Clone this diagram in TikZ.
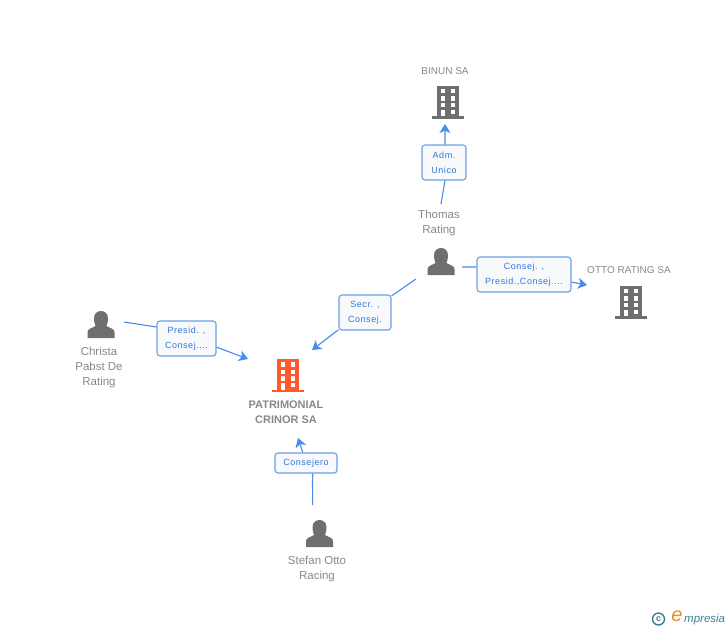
\documentclass[tikz,border=0pt]{standalone}
\usepackage{fontspec}
\setmainfont{Liberation Sans}
\usetikzlibrary{arrows.meta}
\definecolor{iconGrey}{HTML}{6F6F6F}
\definecolor{labelGrey}{HTML}{888888}
\definecolor{linkBlue}{HTML}{4A8AE8}
\definecolor{boxEdge}{HTML}{6A9FE8}
\definecolor{boxText}{HTML}{2F78DC}
\definecolor{boxFill}{HTML}{F8F9FB}
\definecolor{buildOrange}{HTML}{FF5A2B}
\definecolor{logoTeal}{HTML}{3F7F96}
\definecolor{logoOrange}{HTML}{F08A1D}
\tikzset{
  person/.pic={
    \fill[iconGrey] (-13.5,27) -- (-13.5,21) .. controls (-13.5,18) and (-9,17) .. (-5.5,15)
      .. controls (-5.5,14) and (-7,12) .. (-7,7) .. controls (-7,2) and (-3,0) .. (0,0)
      .. controls (3,0) and (7,2) .. (7,7) .. controls (7,12) and (5.5,14) .. (5.5,15)
      .. controls (9,17) and (13.5,18) .. (13.5,21) -- (13.5,27) -- cycle;
  },
  building/.pic={
    \path[pic actions] (-11,-33) rectangle (11,0);
    \path[pic actions] (-16,-2.5) rectangle (16,0);
    \foreach \wy in {-29.7,-22.3,-15.7} {
      \fill[white] (-7.3,\wy) rectangle ++(4.6,4.4);
      \fill[white] (2.7,\wy) rectangle ++(4.6,4.4);
    }
    \fill[white] (2.7,-9) rectangle ++(4.6,4.4);
    \fill[white] (-7.3,-9) rectangle (-2.7,-2.5);
  },
  namelabel/.style={font=\fontsize{11.5}{15}\selectfont, text=labelGrey, align=center, inner sep=0pt},
  firmlabel/.style={font=\fontsize{10}{15}\selectfont, text=labelGrey, align=center, inner sep=0pt},
  mainlabel/.style={font=\fontsize{11}{15}\selectfont\bfseries, text=labelGrey, align=center, inner sep=0pt},
  rolebox/.style={draw=boxEdge, fill=boxFill, line width=1.1pt, rounded corners=3pt,
    inner sep=0pt, align=center, text=boxText,
    font=\fontsize{9}{15}\selectfont\addfontfeature{LetterSpace=6}},
  link/.style={draw=linkBlue, line width=1.1pt},
  arrowlink/.style={link, -{Stealth[length=9pt,width=11pt,inset=2.5pt]}},
}
\begin{document}
\begin{tikzpicture}[x=1pt,y=-1pt]
\useasboundingbox (0,0) rectangle (728,630);

% role boxes
\node[rolebox, minimum width=44pt, minimum height=35pt] (boxA) at (444,162.5) {\raisebox{-1pt}{Adm.}\\\raisebox{-1pt}{Unico}};
\node[rolebox, minimum width=52pt, minimum height=35pt] (boxB) at (365,312.5) {\raisebox{-1pt}{Secr. ,}\\\raisebox{-1pt}{Consej.}};
\node[rolebox, minimum width=94pt, minimum height=35pt] (boxC) at (524,274.5) {\raisebox{-1pt}{Consej. ,}\\\raisebox{-1pt}{Presid.,Consej....}};
\node[rolebox, minimum width=59pt, minimum height=35pt] (boxD) at (186.5,338.5) {\raisebox{-1pt}{Presid. ,}\\\raisebox{-1pt}{Consej....}};
\node[rolebox, minimum width=62pt, minimum height=20pt] (boxE) at (306,463) {\raisebox{-1pt}{Consejero}};

% labels
\node[firmlabel] (binun) at (445,71) {BINUN SA};
\node[firmlabel] (otto) at (629,270.5) {OTTO RATING SA};
\node[namelabel] (thomas) at (439,223) {Thomas\\Rating};
\node[namelabel] (christa) at (99,368) {Christa\\Pabst De\\Rating};
\node[namelabel] (stefan) at (317,569.5) {Stefan Otto\\Racing};
\node[mainlabel] (patri) at (286,412) {PATRIMONIAL\\CRINOR SA};

% icons
\pic[fill=iconGrey] (binunIcon) at (448,118.5) {building};
\pic[fill=iconGrey] (ottoIcon) at (631,318.5) {building};
\pic[fill=buildOrange] (patriIcon) at (288,392) {building};
\pic (thomasIcon) at (441,248) {person};
\pic (christaIcon) at (101,311) {person};
\pic (stefanIcon) at (319.5,520) {person};

% connector ends
\coordinate (thomasUp) at (441,204);
\coordinate (binunIn) at (445,124);
\coordinate (thomasLeft) at (416,279);
\coordinate (patriInA) at (312,350);
\coordinate (thomasRight) at (462,267);
\coordinate (ottoIn) at (587,285);
\coordinate (christaOut) at (124,322);
\coordinate (patriInB) at (248,359);
\coordinate (stefanUp) at (312.5,505);
\coordinate (patriInC) at (298,438);

% connectors
\draw[link] (thomasUp) -- (boxA.273);
\draw[arrowlink] (boxA.87) -- (binunIn);
\draw[link] (thomasLeft) -- (boxB.32);
\draw[arrowlink] (boxB.213) -- (patriInA);
\draw[link] (thomasRight) -- (boxC.171);
\draw[arrowlink] (boxC.351) -- (ottoIn);
\draw[link] (christaOut) -- (boxD.159);
\draw[arrowlink] (boxD.344) -- (patriInB);
\draw[link] (stefanUp) .. controls (313,495) and (312,484) .. (boxE.303);
\draw[arrowlink] (boxE.107) -- (patriInC);

% logo
\node[circle, draw=logoTeal, line width=1.4pt, inner sep=0pt, minimum size=12pt, text=logoTeal,
  font=\fontsize{9}{9}\selectfont\bfseries] (logoC) at (658.5,619) {c};
\node[inner sep=0pt, text=logoOrange, font=\itshape\fontsize{20}{20}\selectfont] (logoE) at (677,616) {e};
\node[inner sep=0pt, anchor=west, text=logoTeal, font=\itshape\fontsize{11.5}{13}\selectfont] (logoT) at (684,620) {mpresia};
\end{tikzpicture}
\end{document}
